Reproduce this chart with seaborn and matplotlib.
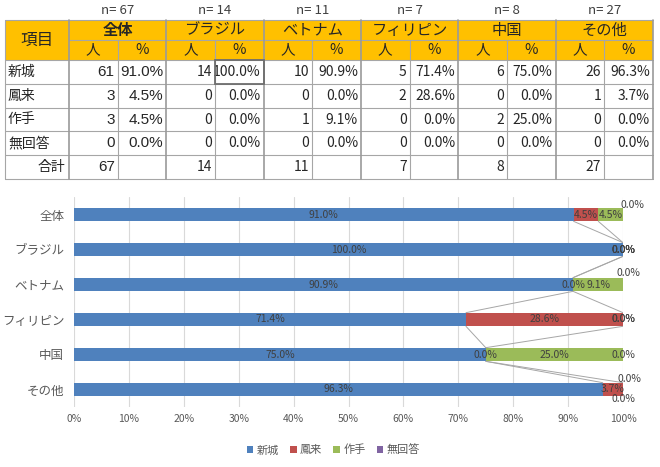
import numpy as np
import pandas as pd
import matplotlib
matplotlib.use('Agg')
import matplotlib.pyplot as plt
from matplotlib.patches import Rectangle, Patch
import seaborn as sns

# ---------------- data ----------------
categories = ['全体', 'ブラジル', 'ベトナム', 'フィリピン', '中国', 'その他']
n_totals = [67, 14, 11, 7, 8, 27]
items = ['新城', '鳳来', '作手', '無回答']
shinshiro_n = [61, 14, 10, 5, 6, 26]
horai_n = [3, 0, 0, 2, 0, 1]
tsukude_n = [3, 0, 1, 0, 2, 0]
noanswer_n = [0, 0, 0, 0, 0, 0]
shinshiro_pct = [91.0, 100.0, 90.9, 71.4, 75.0, 96.3]
horai_pct = [4.5, 0.0, 0.0, 28.6, 0.0, 3.7]
tsukude_pct = [4.5, 0.0, 9.1, 0.0, 25.0, 0.0]
noanswer_pct = [0.0, 0.0, 0.0, 0.0, 0.0, 0.0]
x_ticks = [0, 10, 20, 30, 40, 50, 60, 70, 80, 90, 100]
x_tick_labels = ['0%', '10%', '20%', '30%', '40%', '50%', '60%', '70%', '80%', '90%', '100%']
header_person = '人'
header_pct = '%'
header_item = '項目'
total_label = '合計'

counts = [shinshiro_n, horai_n, tsukude_n, noanswer_n]
pcts = [shinshiro_pct, horai_pct, tsukude_pct, noanswer_pct]

# ---------------- style ----------------
sns.set_style('white')
plt.rcParams['font.family'] = ['Noto Sans CJK JP', 'DejaVu Sans']

W, H = 660, 467
fig = plt.figure(figsize=(6.6, 4.67), dpi=100)

# ---------------- table ----------------
tab = fig.add_axes([0, 0, 1, 1])
tab.set_xlim(0, W)
tab.set_ylim(H, 0)
tab.axis('off')

x0, x1 = 5, 69
gw = 97.3
sw = gw / 2
xr = x1 + 6 * gw
ry = [20, 40, 60, 84, 108, 131, 155, 179]
orange = '#FFC000'
lc = '#A6A6A6'
txt = '#262626'
arial = ['Liberation Sans', 'DejaVu Sans']

tab.add_patch(Rectangle((x0, ry[0]), xr - x0, ry[2] - ry[0], fc=orange, ec='none', zorder=0))

# horizontal lines
tab.plot([x0, xr], [ry[0], ry[0]], color=lc, lw=0.8)
tab.plot([x1, xr], [ry[1], ry[1]], color=lc, lw=0.8)
for y in ry[2:]:
    tab.plot([x0, xr], [y, y], color=lc, lw=0.8)
# vertical lines
tab.plot([x0, x0], [ry[0], ry[-1]], color=lc, lw=0.8)
for g in range(7):
    xx = x1 + g * gw
    tab.plot([xx, xx], [ry[0], ry[-1]], color='#9a9a9a', lw=1.2)
for g in range(6):
    xx = x1 + g * gw + sw
    tab.plot([xx, xx], [ry[1], ry[-1]], color=lc, lw=0.8)

# headers
tab.text((x0 + x1) / 2, (ry[0] + ry[2]) / 2, header_item, ha='center', va='center', fontsize=12, color=txt)
for g, cat in enumerate(categories):
    gx = x1 + g * gw
    tab.text(gx + gw / 2, 11, f'n= {n_totals[g]}', ha='center', va='center', fontsize=9.5, color='#404040')
    tab.text(gx + gw / 2, (ry[0] + ry[1]) / 2, cat, ha='center', va='center', fontsize=11,
             color=txt, fontweight='bold' if g == 0 else 'normal')
    tab.text(gx + sw / 2, (ry[1] + ry[2]) / 2, header_person, ha='center', va='center', fontsize=10.5, color=txt)
    tab.text(gx + sw * 1.5, (ry[1] + ry[2]) / 2, header_pct, ha='center', va='center', fontsize=10.5, color=txt)

# data rows
for r, item in enumerate(items):
    yc = (ry[2 + r] + ry[3 + r]) / 2
    tab.text(x0 + 3, yc, item, ha='left', va='center', fontsize=10, color=txt)
    for g in range(6):
        gx = x1 + g * gw
        if g == 0:
            tab.text(gx + sw - 3, yc, f'{counts[r][g]}', ha='right', va='center', fontsize=11,
                     color=txt, family=arial)
            tab.text(gx + gw - 3, yc, f'{pcts[r][g]:.1f}%', ha='right', va='center', fontsize=11,
                     color=txt, family=arial)
        else:
            tab.text(gx + sw - 3, yc, f'{counts[r][g]}', ha='right', va='center', fontsize=10, color=txt)
            tab.text(gx + gw - 3, yc, f'{pcts[r][g]:.1f}%', ha='right', va='center', fontsize=10, color=txt)
yc = (ry[6] + ry[7]) / 2
tab.text(x1 - 4, yc, total_label, ha='right', va='center', fontsize=10, color=txt)
for g in range(6):
    gx = x1 + g * gw
    if g == 0:
        tab.text(gx + sw - 3, yc, f'{n_totals[g]}', ha='right', va='center', fontsize=11, color=txt, family=arial)
    else:
        tab.text(gx + sw - 3, yc, f'{n_totals[g]}', ha='right', va='center', fontsize=10, color=txt)
# selected cell outline
tab.add_patch(Rectangle((x1 + gw + sw, ry[2]), sw, ry[3] - ry[2], fc='none', ec='#6e6e6e', lw=1.3, zorder=5))

# ---------------- chart ----------------
ax = fig.add_axes([74 / W, 1 - 407 / H, 549 / W, 210 / H])
colors = ['#4F81BD', '#C0504D', '#9BBB59', '#8064A2']
bw = 0.39
lefts = [np.zeros(len(categories))]
for k in range(4):
    lefts.append(lefts[-1] + np.array(pcts[k]))

for k in range(4):
    df = pd.DataFrame({'cat': categories, 'val': pcts[k]})
    sns.barplot(data=df, x='val', y='cat', order=categories, color=colors[k], saturation=1,
                width=bw, ax=ax, orient='h', left=lefts[k], linewidth=0, zorder=2)

# series lines
for i in range(len(categories) - 1):
    for k in range(1, 5):
        ax.plot([lefts[k][i], lefts[k][i + 1]], [i + bw / 2, i + 1 - bw / 2],
                color='#A6A6A6', lw=0.7, zorder=3)

# data labels
label_offsets = {(0, 3): (9, -10), (2, 3): (5, -11), (5, 2): (6, -10), (5, 3): (0, 10)}
for i in range(len(categories)):
    for k in range(4):
        v = pcts[k][i]
        xc = lefts[k][i] + v / 2
        dx, dy = label_offsets.get((i, k), (0, 0))
        ax.annotate(f'{v:.1f}%', (xc, i), xytext=(dx, -dy), textcoords='offset pixels',
                    ha='center', va='center', fontsize=7.5, color='#404040', zorder=4,
                    annotation_clip=False)

ax.set_xlim(0, 100)
ax.set_ylim(len(categories) - 0.5, -0.5)
ax.set_xticks(x_ticks)
ax.set_xticklabels(x_tick_labels)
ax.xaxis.grid(True, color='#D9D9D9', lw=0.8)
ax.yaxis.grid(False)
ax.set_axisbelow(True)
for s in ax.spines.values():
    s.set_visible(False)
ax.tick_params(axis='x', length=0, labelsize=7.5, labelcolor='#595959', pad=5)
ax.tick_params(axis='y', length=0, labelsize=9, labelcolor='#595959', pad=7)
ax.set_xlabel('')
ax.set_ylabel('')

handles = [Patch(facecolor=c, edgecolor='none', label=l) for c, l in zip(colors, items)]
fig.legend(handles=handles, loc='center', bbox_to_anchor=(0.505, 1 - 450 / H), ncol=4, frameon=False,
           fontsize=8, handlelength=0.6, handleheight=0.6, handletextpad=0.3, columnspacing=1.0,
           labelcolor='#595959')

fig.savefig('out.png', dpi=100)
